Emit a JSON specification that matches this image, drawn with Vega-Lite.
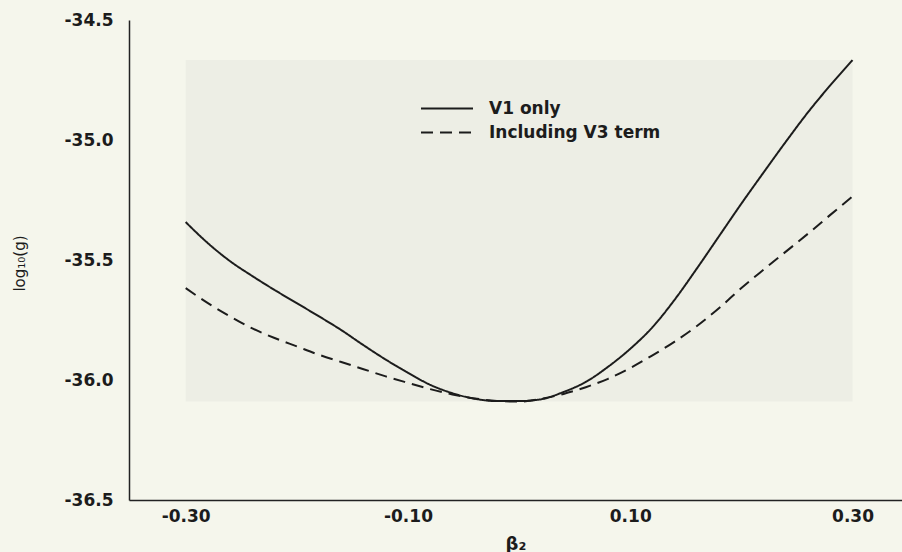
{
  "$schema": "https://vega.github.io/schema/vega-lite/v6.json",
  "width": 773,
  "height": 480,
  "autosize": {"type": "none"},
  "padding": {"left": 129, "top": 20, "right": 0, "bottom": 52},
  "background": "#f5f6ec",
  "config": {"view": {"stroke": null}, "font": "DejaVu Sans"},
  "datasets": {
    "box": [{"x0": -0.30, "x1": 0.30, "y0": -36.09, "y1": -34.667}],
    "curves": [
      {"series": "V1 only", "beta2": -0.30, "log10g": -35.342},
      {"series": "V1 only", "beta2": -0.28, "log10g": -35.43},
      {"series": "V1 only", "beta2": -0.26, "log10g": -35.505},
      {"series": "V1 only", "beta2": -0.24, "log10g": -35.567},
      {"series": "V1 only", "beta2": -0.22, "log10g": -35.625},
      {"series": "V1 only", "beta2": -0.20, "log10g": -35.68},
      {"series": "V1 only", "beta2": -0.18, "log10g": -35.735},
      {"series": "V1 only", "beta2": -0.16, "log10g": -35.792},
      {"series": "V1 only", "beta2": -0.14, "log10g": -35.855},
      {"series": "V1 only", "beta2": -0.12, "log10g": -35.915},
      {"series": "V1 only", "beta2": -0.10, "log10g": -35.97},
      {"series": "V1 only", "beta2": -0.08, "log10g": -36.02},
      {"series": "V1 only", "beta2": -0.06, "log10g": -36.055},
      {"series": "V1 only", "beta2": -0.04, "log10g": -36.078},
      {"series": "V1 only", "beta2": -0.02, "log10g": -36.088},
      {"series": "V1 only", "beta2": 0.00, "log10g": -36.088},
      {"series": "V1 only", "beta2": 0.02, "log10g": -36.08},
      {"series": "V1 only", "beta2": 0.04, "log10g": -36.05},
      {"series": "V1 only", "beta2": 0.06, "log10g": -36.008},
      {"series": "V1 only", "beta2": 0.08, "log10g": -35.945},
      {"series": "V1 only", "beta2": 0.10, "log10g": -35.87},
      {"series": "V1 only", "beta2": 0.12, "log10g": -35.78},
      {"series": "V1 only", "beta2": 0.14, "log10g": -35.665},
      {"series": "V1 only", "beta2": 0.16, "log10g": -35.535},
      {"series": "V1 only", "beta2": 0.18, "log10g": -35.40},
      {"series": "V1 only", "beta2": 0.20, "log10g": -35.265},
      {"series": "V1 only", "beta2": 0.22, "log10g": -35.135},
      {"series": "V1 only", "beta2": 0.24, "log10g": -35.007},
      {"series": "V1 only", "beta2": 0.26, "log10g": -34.884},
      {"series": "V1 only", "beta2": 0.28, "log10g": -34.772},
      {"series": "V1 only", "beta2": 0.30, "log10g": -34.667},
      {"series": "Including V3 term", "beta2": -0.30, "log10g": -35.617},
      {"series": "Including V3 term", "beta2": -0.28, "log10g": -35.68},
      {"series": "Including V3 term", "beta2": -0.26, "log10g": -35.735},
      {"series": "Including V3 term", "beta2": -0.24, "log10g": -35.785},
      {"series": "Including V3 term", "beta2": -0.22, "log10g": -35.825},
      {"series": "Including V3 term", "beta2": -0.20, "log10g": -35.86},
      {"series": "Including V3 term", "beta2": -0.18, "log10g": -35.895},
      {"series": "Including V3 term", "beta2": -0.16, "log10g": -35.925},
      {"series": "Including V3 term", "beta2": -0.14, "log10g": -35.955},
      {"series": "Including V3 term", "beta2": -0.12, "log10g": -35.985},
      {"series": "Including V3 term", "beta2": -0.10, "log10g": -36.012},
      {"series": "Including V3 term", "beta2": -0.08, "log10g": -36.038},
      {"series": "Including V3 term", "beta2": -0.06, "log10g": -36.06},
      {"series": "Including V3 term", "beta2": -0.04, "log10g": -36.077},
      {"series": "Including V3 term", "beta2": -0.02, "log10g": -36.087},
      {"series": "Including V3 term", "beta2": 0.00, "log10g": -36.09},
      {"series": "Including V3 term", "beta2": 0.02, "log10g": -36.078},
      {"series": "Including V3 term", "beta2": 0.04, "log10g": -36.058},
      {"series": "Including V3 term", "beta2": 0.06, "log10g": -36.03},
      {"series": "Including V3 term", "beta2": 0.08, "log10g": -35.995},
      {"series": "Including V3 term", "beta2": 0.10, "log10g": -35.95},
      {"series": "Including V3 term", "beta2": 0.12, "log10g": -35.897},
      {"series": "Including V3 term", "beta2": 0.14, "log10g": -35.84},
      {"series": "Including V3 term", "beta2": 0.16, "log10g": -35.775},
      {"series": "Including V3 term", "beta2": 0.18, "log10g": -35.70},
      {"series": "Including V3 term", "beta2": 0.20, "log10g": -35.617},
      {"series": "Including V3 term", "beta2": 0.22, "log10g": -35.54},
      {"series": "Including V3 term", "beta2": 0.24, "log10g": -35.465},
      {"series": "Including V3 term", "beta2": 0.26, "log10g": -35.39},
      {"series": "Including V3 term", "beta2": 0.28, "log10g": -35.312},
      {"series": "Including V3 term", "beta2": 0.30, "log10g": -35.235}
    ]
  },
  "layer": [
    {
      "data": {"name": "box"},
      "mark": {"type": "rect", "fill": "#edeee5"},
      "encoding": {
        "x": {
          "field": "x0", "type": "quantitative",
          "scale": {"domain": [-0.351, 0.3445], "nice": false, "zero": false},
          "axis": {
            "values": [-0.3, -0.1, 0.1, 0.3],
            "labelExpr": "replace(format(datum.value, '.2f'), '\u2212', '-')",
            "labelFont": "DejaVu Sans", "labelFontWeight": "bold", "labelFontSize": 17,
            "labelColor": "#1c1c1c", "labelPadding": 8,
            "ticks": false, "grid": false,
            "domainColor": "#222222", "domainWidth": 1.5,
            "title": "β₂", "titleFont": "DejaVu Sans", "titleFontSize": 18, "titleFontWeight": "bold",
            "titleColor": "#1c1c1c", "titleY": 44, "titleBaseline": "middle"
          }
        },
        "x2": {"field": "x1"},
        "y": {
          "field": "y0", "type": "quantitative",
          "scale": {"domain": [-36.5, -34.5], "nice": false, "zero": false},
          "axis": {
            "values": [-34.5, -35, -35.5, -36, -36.5],
            "labelExpr": "replace(format(datum.value, '.1f'), '\u2212', '-')",
            "labelFont": "DejaVu Sans", "labelFontWeight": "bold", "labelFontSize": 17,
            "labelColor": "#1c1c1c", "labelPadding": 16,
            "ticks": false, "grid": false,
            "domainColor": "#222222", "domainWidth": 1.5,
            "title": "log₁₀(g)", "titleFont": "DejaVu Sans", "titleFontSize": 15, "titleFontWeight": "normal",
            "titleColor": "#1c1c1c", "titleX": -110, "titleY": 243, "titleAngle": -90,
            "titleAlign": "center", "titleBaseline": "middle"
          }
        },
        "y2": {"field": "y1"}
      }
    },
    {
      "mark": {"type": "rule", "color": "#222222", "strokeWidth": 1.5},
      "encoding": {"y": {"datum": -34.5, "type": "quantitative"}}
    },
    {
      "data": {"name": "curves"},
      "mark": {"type": "line", "strokeWidth": 2, "color": "#1c1c1c", "interpolate": "monotone"},
      "encoding": {
        "x": {"field": "beta2", "type": "quantitative"},
        "y": {"field": "log10g", "type": "quantitative"},
        "strokeDash": {
          "field": "series", "type": "nominal",
          "scale": {"domain": ["V1 only", "Including V3 term"], "range": [[1, 0], [12, 7]]},
          "legend": {
            "orient": "none", "legendX": 291, "legendY": 80, "title": null,
            "symbolType": "stroke", "symbolSize": 2704, "symbolStrokeWidth": 2,
            "symbolStrokeColor": "#1c1c1c", "clipHeight": 17,
            "labelFont": "DejaVu Sans", "labelFontWeight": "bold", "labelFontSize": 17,
            "labelColor": "#1c1c1c", "labelOffset": 15, "labelLimit": 0, "rowPadding": 6
          }
        }
      }
    }
  ]
}
